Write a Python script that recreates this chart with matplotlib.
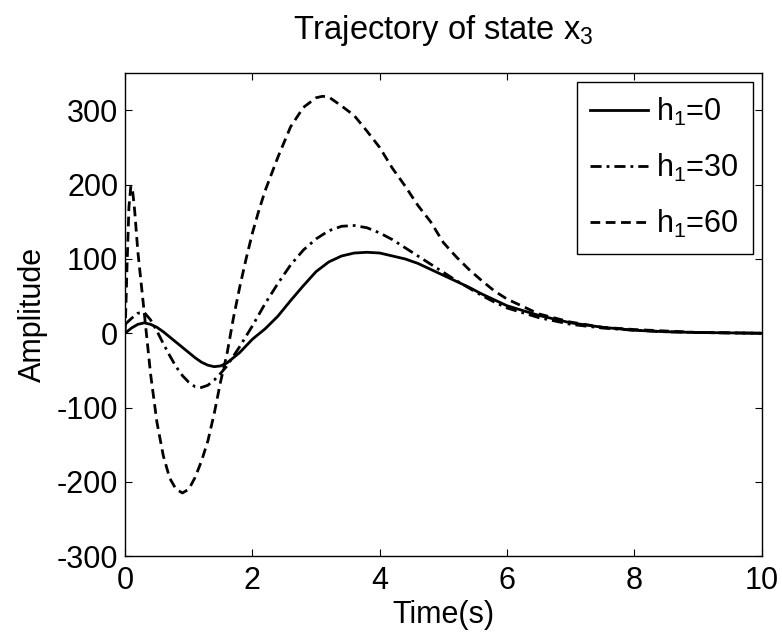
import matplotlib
matplotlib.use("Agg")
import matplotlib.pyplot as plt

# --- DATA ---
t_h0 = [0, 0.1, 0.2, 0.3, 0.4, 0.5, 0.6, 0.7, 0.8, 0.9, 1.0, 1.1, 1.2, 1.3, 1.4, 1.5, 1.6,
        1.8, 2.0, 2.2, 2.4, 2.6, 2.8, 3.0, 3.2, 3.4, 3.6, 3.8, 4.0, 4.2, 4.4, 4.6, 4.8,
        5.0, 5.2, 5.4, 5.6, 5.8, 6.0, 6.5, 7.0, 7.5, 8.0, 8.5, 9.0, 9.5, 10]
x3_h0 = [0, 7, 12, 14, 12, 8, 2, -5, -12, -19, -26, -33, -39, -43, -45, -44, -40,
         -26, -8, 6, 23, 44, 64, 83, 96, 104, 108, 109, 108, 104, 100, 94, 86,
         78, 70, 62, 53, 45, 37, 24, 14, 8, 4, 2, 1, 0.5, 0]

t_h30 = [0, 0.1, 0.2, 0.3, 0.4, 0.5, 0.6, 0.7, 0.8, 0.9, 1.0, 1.1, 1.2, 1.3, 1.4, 1.5, 1.6,
         1.8, 2.0, 2.2, 2.4, 2.6, 2.8, 3.0, 3.2, 3.4, 3.6, 3.8, 4.0, 4.2, 4.4, 4.6, 4.8,
         5.0, 5.2, 5.4, 5.6, 5.8, 6.0, 6.5, 7.0, 7.5, 8.0, 8.5, 9.0, 9.5, 10]
x3_h30 = [12, 20, 27, 28, 18, 3, -14, -30, -45, -57, -66, -72, -73, -70, -63, -54, -44,
          -18, 10, 40, 67, 92, 112, 127, 138, 144, 145, 142, 135, 126, 115, 104, 93,
          82, 71, 61, 51, 42, 34, 21, 12, 7, 4, 2, 1, 0.5, 0]

t_h60 = [0, 0.03, 0.06, 0.09, 0.12, 0.15, 0.2, 0.3, 0.4, 0.5, 0.6, 0.7, 0.8, 0.9, 1.0,
         1.1, 1.2, 1.3, 1.4, 1.5, 1.6, 1.7, 1.8, 1.9, 2.0, 2.1, 2.2, 2.4, 2.6, 2.8, 3.0,
         3.1, 3.2, 3.4, 3.6, 3.8, 4.0, 4.2, 4.4, 4.6, 4.8, 5.0, 5.2, 5.4, 5.6, 5.8, 6.0,
         6.5, 7.0, 7.5, 8.0, 8.5, 9.0, 9.5, 10]
x3_h60 = [0, 90, 170, 198, 190, 165, 110, 28, -55, -120, -165, -195, -210, -215, -210,
          -194, -172, -145, -108, -65, -28, 20, 62, 100, 135, 165, 192, 237, 278, 304, 317,
          319, 318, 306, 293, 272, 250, 222, 198, 172, 150, 122, 103, 86, 71, 57, 46,
          26, 15, 8, 5, 3, 1, 0.5, 0]

labels = [r'h$_1$=0', r'h$_1$=30', r'h$_1$=60']
xticks = [0, 2, 4, 6, 8, 10]
yticks = [-300, -200, -100, 0, 100, 200, 300]

# --- STYLE ---
plt.rcParams['font.family'] = 'Liberation Sans'
plt.rcParams['mathtext.fontset'] = 'custom'
plt.rcParams['mathtext.rm'] = 'Liberation Sans'
plt.rcParams['mathtext.it'] = 'Liberation Sans:italic'
plt.rcParams['axes.unicode_minus'] = False
plt.rcParams['font.size'] = 22

fig = plt.figure(figsize=(7.82, 6.37), dpi=100)
ax = fig.add_axes([0.160, 0.127, 0.814, 0.758])

lw = 2.0
ax.plot(t_h0, x3_h0, color='black', lw=lw, linestyle='-', label=labels[0])
ax.plot(t_h30, x3_h30, color='black', lw=lw, linestyle=(0, (4, 1.8, 1, 1.8)), label=labels[1])
ax.plot(t_h60, x3_h60, color='black', lw=lw, linestyle=(0, (3.5, 2)), label=labels[2])

ax.set_xlim(0, 10)
ax.set_ylim(-300, 350)
ax.set_xticks(xticks)
ax.set_yticks(yticks)
ax.tick_params(direction='in', length=5, width=0.8, top=True, right=True)
ax.tick_params(axis='x', pad=7)
ax.tick_params(axis='y', pad=5)
for s in ax.spines.values():
    s.set_linewidth(1.0)

ax.set_title(r'Trajectory of state x$_3$', pad=25, fontsize=23.5)
ax.set_xlabel('Time(s)', labelpad=3)
ax.set_ylabel('Amplitude', labelpad=6)

leg = ax.legend(loc='upper right', fancybox=False, edgecolor='black', framealpha=1,
                handlelength=1.9, handletextpad=0.25, labelspacing=0.78,
                borderaxespad=0.3, borderpad=0.45)
leg.get_frame().set_linewidth(1.0)

fig.savefig('out.png', dpi=100)
